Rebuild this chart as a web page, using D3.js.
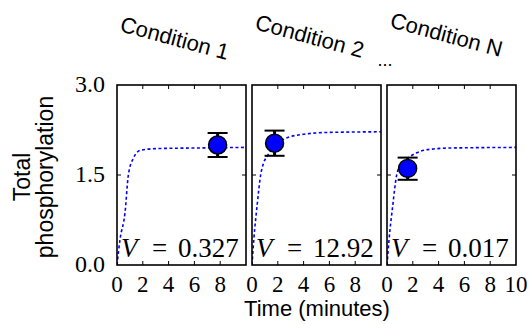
<!DOCTYPE html>
<html>
<head>
<meta charset="utf-8">
<script src="https://cdn.jsdelivr.net/npm/d3@7"></script>
<style>
  body { margin: 0; background: #fff; }
  svg { display: block; }
</style>
</head>
<body>
<div id="chart"></div>
<script>
// values
var conditions = ["Condition 1", "Condition 2", "Condition N"];
var vLabels = ["0.327", "12.92", "0.017"];
var pointTimes = [7.8, 1.75, 1.6];
var pointValues = [2.0, 2.03, 1.61];
var errLow = [1.8, 1.82, 1.42];
var errHigh = [2.2, 2.24, 1.79];
var fit1 = [[0,0],[0.23,0.42],[0.62,0.87],[0.88,1.5],[1.27,1.78],[1.8,1.91],[3,1.94],[6,1.95],[10,1.96]];
var fit2 = [[0,0],[0.15,0.45],[0.4,1.0],[0.67,1.5],[0.9,1.7],[1.2,1.82],[1.8,2.0],[2.5,2.1],[4,2.18],[6,2.21],[10,2.22]];
var fit3 = [[0,0],[0.15,0.4],[0.45,1.0],[0.75,1.5],[1.1,1.68],[1.6,1.78],[2.3,1.87],[3.4,1.93],[5,1.95],[10,1.96]];
var fits = [fit1, fit2, fit3];
var xTicks = [0, 2, 4, 6, 8, 10];
var yTicks = [0, 1.5, 3];
var yTickLabels = ["0.0", "1.5", "3.0"];

var svgWidth = 531, svgHeight = 324;
var panelLefts = [117, 252, 387];
var panelWidth = 129;
var plotTop = 85, plotBottom = 265;

var svg = d3.select("#chart").append("svg")
    .attr("width", svgWidth)
    .attr("height", svgHeight);

var yScale = d3.scaleLinear().domain([0, 3]).range([plotBottom, plotTop]);

var serif = "'Liberation Serif', 'Times New Roman', serif";
var sans = "'Liberation Sans', Arial, Helvetica, sans-serif";

conditions.forEach(function(cond, i) {
    var left = panelLefts[i];
    var xScale = d3.scaleLinear().domain([0, 10]).range([left, left + panelWidth]);
    var g = svg.append("g");

    g.append("clipPath").attr("id", "clip" + i)
      .append("rect")
        .attr("x", left).attr("y", plotTop)
        .attr("width", panelWidth).attr("height", plotBottom - plotTop);

    // fitted curve
    var line = d3.line()
        .x(d => xScale(d[0]))
        .y(d => yScale(d[1]))
        .curve(d3.curveMonotoneX);
    g.append("path")
        .datum(fits[i])
        .attr("d", line)
        .attr("clip-path", "url(#clip" + i + ")")
        .attr("fill", "none")
        .attr("stroke", "#0000ff")
        .attr("stroke-width", 1.6)
        .attr("stroke-dasharray", "3,2.5");

    // ticks inside the frame
    var xt = xTicks.filter(t => t > 0 && t < 10);
    g.selectAll(".xtb").data(xt).enter().append("line")
        .attr("x1", d => xScale(d)).attr("x2", d => xScale(d))
        .attr("y1", plotBottom).attr("y2", plotBottom - 4)
        .attr("stroke", "#000").attr("stroke-width", 1);
    g.selectAll(".xtt").data(xt).enter().append("line")
        .attr("x1", d => xScale(d)).attr("x2", d => xScale(d))
        .attr("y1", plotTop).attr("y2", plotTop + 4)
        .attr("stroke", "#000").attr("stroke-width", 1);
    var yt = yTicks.filter(t => t > 0 && t < 3);
    g.selectAll(".ytl").data(yt).enter().append("line")
        .attr("x1", left).attr("x2", left + 4)
        .attr("y1", d => yScale(d)).attr("y2", d => yScale(d))
        .attr("stroke", "#000").attr("stroke-width", 1);
    g.selectAll(".ytr").data(yt).enter().append("line")
        .attr("x1", left + panelWidth).attr("x2", left + panelWidth - 4)
        .attr("y1", d => yScale(d)).attr("y2", d => yScale(d))
        .attr("stroke", "#000").attr("stroke-width", 1);

    // frame
    g.append("rect")
        .attr("x", left).attr("y", plotTop)
        .attr("width", panelWidth).attr("height", plotBottom - plotTop)
        .attr("fill", "none").attr("stroke", "#000").attr("stroke-width", 1.6);

    // x tick labels
    var labTicks = i === 2 ? xTicks : xTicks.filter(t => t < 10);
    g.selectAll(".xl").data(labTicks).enter().append("text")
        .attr("x", d => xScale(d))
        .attr("y", 292)
        .attr("text-anchor", "middle")
        .style("font-family", serif)
        .style("font-size", "23px")
        .text(d => d);

    // error bar and point
    var px = xScale(pointTimes[i]);
    g.append("line")
        .attr("x1", px).attr("x2", px)
        .attr("y1", yScale(errLow[i])).attr("y2", yScale(errHigh[i]))
        .attr("stroke", "#000").attr("stroke-width", 3);
    [errLow[i], errHigh[i]].forEach(function(v) {
        g.append("line")
            .attr("x1", px - 10).attr("x2", px + 10)
            .attr("y1", yScale(v)).attr("y2", yScale(v))
            .attr("stroke", "#000").attr("stroke-width", 2);
    });
    g.append("circle")
        .attr("cx", px).attr("cy", yScale(pointValues[i]))
        .attr("r", 9)
        .attr("fill", "#0000ff")
        .attr("stroke", "#000").attr("stroke-width", 1.5);

    // V label
    var vt = g.append("text")
        .attr("y", plotBottom - 8)
        .style("font-family", serif)
        .style("font-size", "27px");
    vt.append("tspan").attr("x", left + 4).style("font-style", "italic").text("V");
    vt.append("tspan").attr("x", left + 35).text("=");
    vt.append("tspan").attr("x", left + 61).text(vLabels[i]);

    // rotated condition title
    svg.append("text")
        .attr("transform", "translate(" + (left + 2) + "," + (31 - i * 2) + ") rotate(15)")
        .style("font-family", sans)
        .style("font-size", "22px")
        .text(cond);
});

// y axis labels
yTicks.forEach(function(t, k) {
    svg.append("text")
        .attr("x", 105)
        .attr("y", yScale(t) + 7)
        .attr("text-anchor", "end")
        .style("font-family", serif)
        .style("font-size", "24px")
        .text(yTickLabels[k]);
});

svg.append("text")
    .attr("x", 385).attr("y", 66)
    .attr("text-anchor", "middle")
    .style("font-family", sans)
    .style("font-size", "18px")
    .text("...");

svg.append("text")
    .attr("x", 317).attr("y", 316)
    .attr("text-anchor", "middle")
    .style("font-family", sans)
    .style("font-size", "22px")
    .text("Time (minutes)");

var yl = svg.append("text")
    .attr("transform", "translate(30,177) rotate(-90)")
    .attr("text-anchor", "middle")
    .style("font-family", sans)
    .style("font-size", "23px");
yl.append("tspan").attr("x", 0).attr("y", 0).text("Total");
yl.append("tspan").attr("x", 0).attr("y", 23).text("phosphorylation");
</script>
</body>
</html>
